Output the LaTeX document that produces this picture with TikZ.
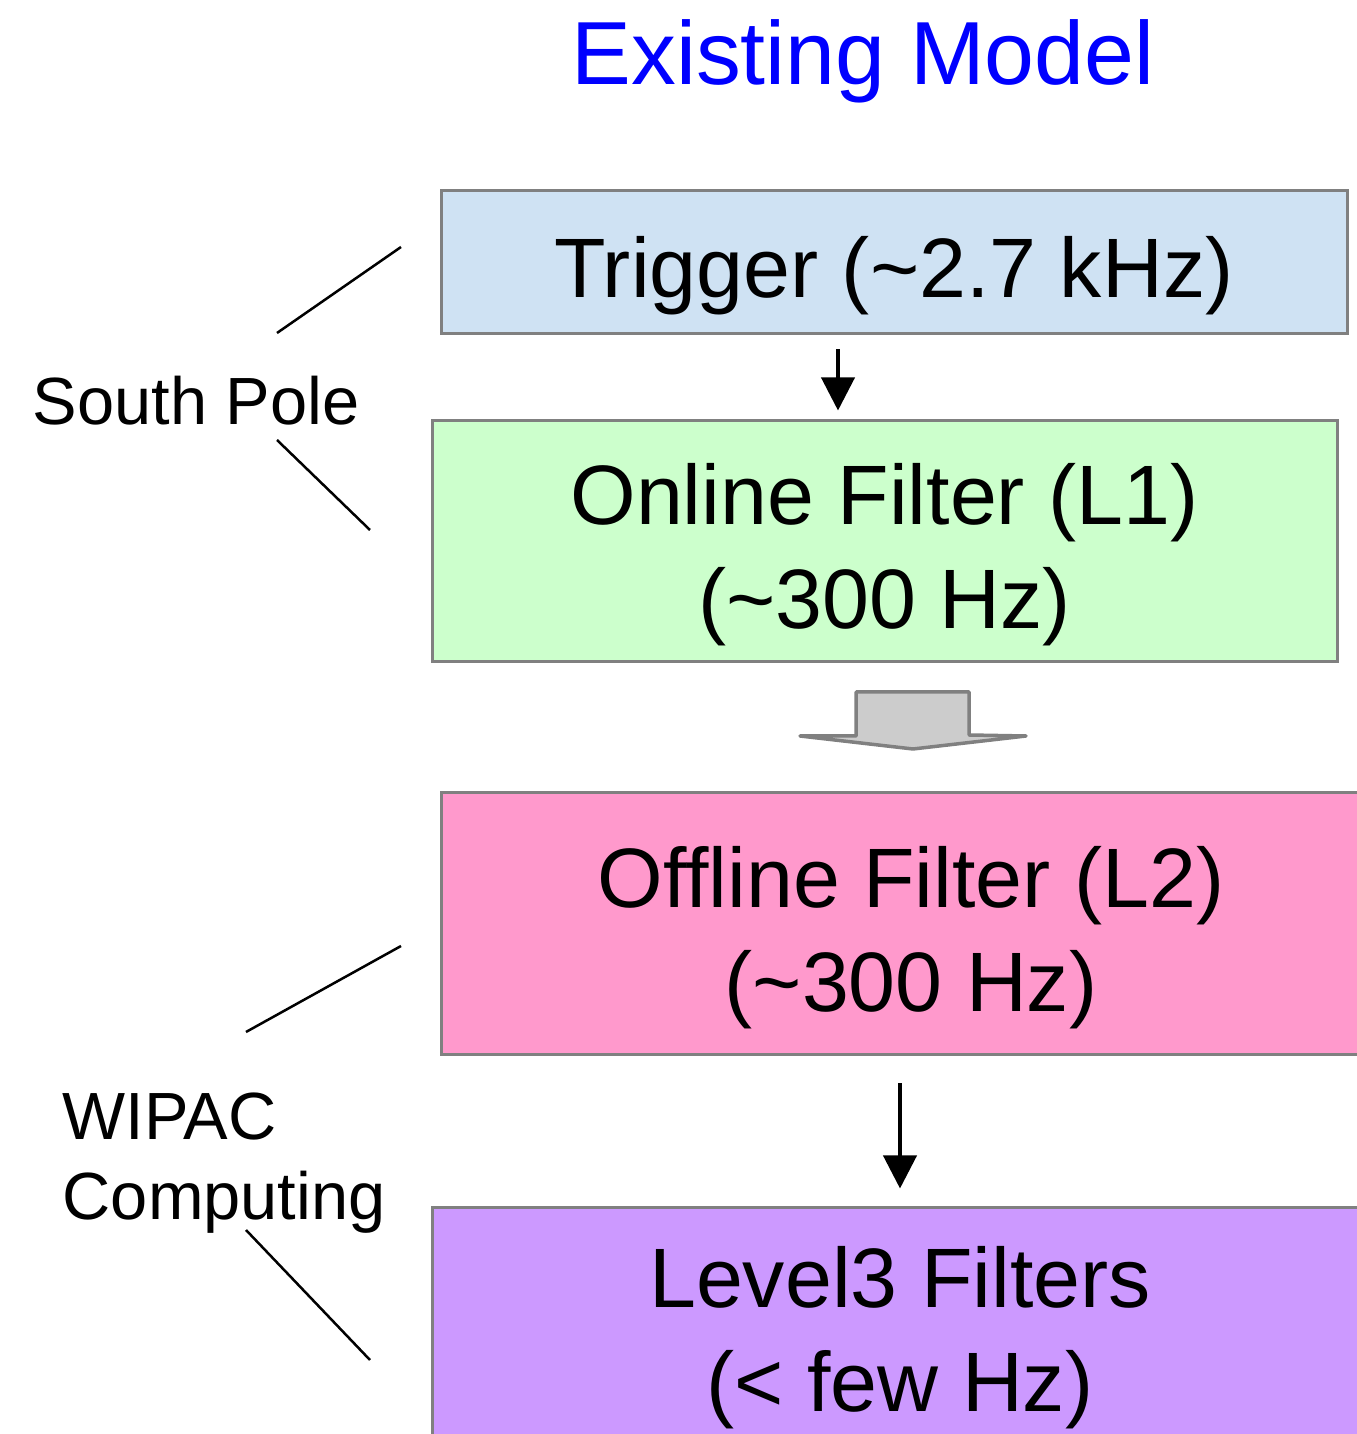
\documentclass[tikz,border=0pt]{standalone}
\usepackage{fontspec}
\setmainfont{Liberation Sans}
\usetikzlibrary{arrows.meta,calc}
\definecolor{trigfill}{HTML}{CFE2F3}
\definecolor{onlinefill}{HTML}{CCFFCC}
\definecolor{offlinefill}{HTML}{FF99CC}
\definecolor{levelfill}{HTML}{CC99FF}
\definecolor{edgegrey}{HTML}{808080}
\definecolor{blockgrey}{HTML}{CCCCCC}
\newcommand{\boxfont}{\fontsize{24}{29.6}\selectfont}
\newcommand{\sidefont}{\fontsize{19}{22.8}\selectfont}
\newcommand{\dropstrut}{\rule{0pt}{0.88cm}}
\begin{document}
\begin{tikzpicture}[
    stage/.style={draw=edgegrey, line width=0.03cm, inner sep=0pt, align=center, font=\boxfont},
    flow/.style={-{Triangle[width=0.33cm,length=0.33cm]}, line width=0.04cm},
    side/.style={line width=0.025cm},
    place/.style={inner sep=0pt, anchor=base west, align=left, font=\sidefont}]
    \useasboundingbox (0,0) rectangle (13.57,14.34);
    % titulo
    \node[inner sep=0pt, anchor=base, text=blue, font=\fontsize{25.5}{30}\selectfont] (title) at (8.63,13.49) {Existing Model};
    % cajas
    \node[stage, fill=trigfill, minimum width=9.06cm, minimum height=1.43cm] (trigger) at (8.94,11.715) {\dropstrut Trigger (\textasciitilde 2.7 kHz)};
    \node[stage, fill=onlinefill, minimum width=9.05cm, minimum height=2.41cm] (online) at (8.845,8.925) {\dropstrut Online Filter (L1)\\(\textasciitilde 300 Hz)};
    \node[stage, fill=offlinefill, minimum width=9.40cm, minimum height=2.62cm] (offline) at (9.11,5.10) {\dropstrut Offline Filter (L2)\\(\textasciitilde 300 Hz)};
    \node[stage, fill=levelfill, minimum width=9.36cm, minimum height=2.32cm] (level) at (9.00,1.10) {\dropstrut Level3 Filters\\(< few Hz)};
    % flechas
    \coordinate (upx) at (8.38,0);
    \coordinate (lowx) at (9.00,0);
    \draw[flow, shorten <=0.14cm, shorten >=0.09cm] (trigger.south -| upx) -- (online.north -| upx);
    \draw[flow, shorten <=0.27cm, shorten >=0.18cm] (offline.south -| lowx) -- (level.north -| lowx);
    \draw[draw=edgegrey, fill=blockgrey, line width=0.035cm, line join=round]
        (8.56,6.98) -- (8.56,7.42) -- (9.69,7.42) -- (9.69,6.99) -- (10.26,6.98) -- (9.13,6.85) -- (8.00,6.98) -- cycle;
    % etiquetas
    \node[place] (pole) at (0.32,10.09) {South Pole};
    \node[place] (wipac) at (0.62,2.14) {WIPAC\\Computing};
    \draw[side] (2.77,11.01) -- (4.01,11.87);
    \draw[side] (2.77,9.94) -- (3.70,9.04);
    \draw[side] (2.46,4.02) -- (4.01,4.88);
    \draw[side] (2.46,2.04) -- (3.70,0.74);
\end{tikzpicture}
\end{document}
